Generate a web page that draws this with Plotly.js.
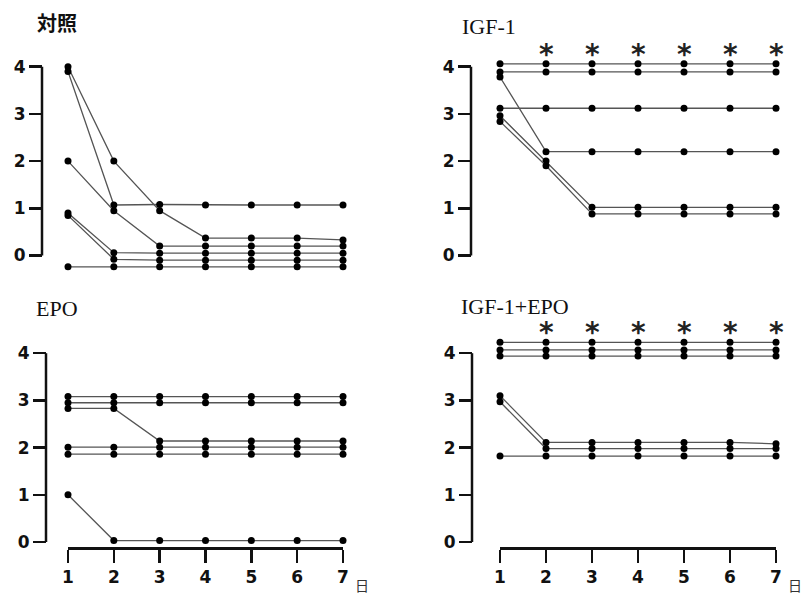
<!DOCTYPE html>
<html>
<head>
<meta charset="utf-8">
<script src="https://cdn.plot.ly/plotly-3.0.1.min.js"></script>
<style>html,body{margin:0;padding:0;background:#fff;}#chart{width:802px;height:594px;}</style>
</head>
<body>
<div id="chart"></div>
<script>
// ---- data ----
const days = [1, 2, 3, 4, 5, 6, 7];
const dayTickLabels = ['1', '2', '3', '4', '5', '6', '7'];
const yTicks = [0, 1, 2, 3, 4];
const yTickLabels = ['0', '1', '2', '3', '4'];
const panelTitles = ['対照', 'IGF-1', 'EPO', 'IGF-1+EPO'];
const dayUnit = '日';
const sigDays = [2, 3, 4, 5, 6, 7];
const sigMark = '*';

const controlSeries = [
  [4.00, 2.00, 0.95, 0.37, 0.37, 0.37, 0.33],
  [3.90, 1.07, 1.08, 1.07, 1.07, 1.07, 1.07],
  [2.00, 0.95, 0.20, 0.20, 0.20, 0.20, 0.20],
  [0.90, 0.06, 0.05, 0.05, 0.05, 0.05, 0.05],
  [0.85, -0.08, -0.10, -0.10, -0.10, -0.10, -0.10],
  [-0.24, -0.24, -0.24, -0.24, -0.24, -0.24, -0.24]
];
const igfSeries = [
  [4.06, 4.06, 4.06, 4.06, 4.06, 4.06, 4.06],
  [3.89, 3.89, 3.89, 3.89, 3.89, 3.89, 3.89],
  [3.78, 2.20, 2.20, 2.20, 2.20, 2.20, 2.20],
  [3.12, 3.12, 3.12, 3.12, 3.12, 3.12, 3.12],
  [2.96, 2.00, 1.02, 1.02, 1.02, 1.02, 1.02],
  [2.84, 1.90, 0.88, 0.88, 0.88, 0.88, 0.88]
];
const epoSeries = [
  [3.08, 3.08, 3.08, 3.08, 3.08, 3.08, 3.08],
  [2.95, 2.95, 2.95, 2.95, 2.95, 2.95, 2.95],
  [2.83, 2.83, 2.14, 2.14, 2.14, 2.14, 2.14],
  [2.01, 2.01, 2.01, 2.01, 2.01, 2.01, 2.01],
  [1.86, 1.86, 1.86, 1.86, 1.86, 1.86, 1.86],
  [1.00, 0.03, 0.03, 0.03, 0.03, 0.03, 0.03]
];
const igfEpoSeries = [
  [4.23, 4.23, 4.23, 4.23, 4.23, 4.23, 4.23],
  [4.07, 4.07, 4.07, 4.07, 4.07, 4.07, 4.07],
  [3.94, 3.94, 3.94, 3.94, 3.94, 3.94, 3.94],
  [3.10, 2.11, 2.11, 2.11, 2.11, 2.11, 2.08],
  [2.97, 1.98, 1.98, 1.98, 1.98, 1.98, 1.98],
  [1.82, 1.82, 1.82, 1.82, 1.82, 1.82, 1.82]
];

// ---- layout helpers ----
const W = 802, H = 594;
const panels = [
  {series: controlSeries, xdom: [68, 343], yrange: [-0.3, 4.3], zero: 255.5, axisX: 42, bottom: false, sigPix: null},
  {series: igfSeries,     xdom: [500, 776], yrange: [-0.3, 4.3], zero: 255.5, axisX: 471, bottom: false, sigPix: 54},
  {series: epoSeries,     xdom: [68, 343], yrange: [-0.106, 4.3], zero: 542, axisX: 46, bottom: true, sigPix: null},
  {series: igfEpoSeries,  xdom: [500, 776], yrange: [-0.106, 4.3], zero: 542, axisX: 472, bottom: true, sigPix: 332.5}
];
const S = 47.2; // px per unit
const tickFont = {family: 'DejaVu Sans', size: 17, color: '#111', weight: 'bold'};

const traces = [];
const layout = {
  width: W, height: H,
  margin: {l: 0, r: 0, t: 0, b: 0},
  paper_bgcolor: '#fff', plot_bgcolor: 'rgba(0,0,0,0)',
  showlegend: false,
  shapes: [],
  annotations: []
};

panels.forEach((p, i) => {
  const k = i === 0 ? '' : String(i + 1);
  const xa = 'x' + k, ya = 'y' + k;
  p.series.forEach(s => {
    traces.push({
      x: days, y: s, xaxis: xa, yaxis: ya,
      type: 'scatter', mode: 'lines+markers',
      line: {color: '#555', width: 1.3},
      marker: {color: '#000', size: 7},
      cliponaxis: false, hoverinfo: 'skip'
    });
  });
  const botPix = p.zero - p.yrange[0] * S;
  const topPix = p.zero - p.yrange[1] * S;
  layout['yaxis' + k] = {
    domain: [1 - botPix / H, 1 - topPix / H],
    range: p.yrange,
    anchor: 'free', position: p.axisX / W,
    showline: false, showgrid: false, zeroline: false,
    ticks: 'outside', ticklen: 13, tickwidth: 2.5, tickcolor: '#111',
    tickvals: yTicks, ticktext: yTickLabels,
    tickfont: tickFont
  };
  layout['xaxis' + k] = {
    domain: [p.xdom[0] / W, p.xdom[1] / W],
    range: [1, 7],
    anchor: ya,
    visible: p.bottom,
    showline: p.bottom, linewidth: 2.5, linecolor: '#111',
    showgrid: false, zeroline: false,
    ticks: 'outside', ticklen: 13, tickwidth: 2.5, tickcolor: '#111',
    tickvals: days, ticktext: dayTickLabels,
    tickfont: tickFont
  };
  // y axis spine from 0 to 4
  layout.shapes.push({
    type: 'line', xref: 'paper', yref: ya,
    x0: p.axisX / W, x1: p.axisX / W, y0: yTicks[0], y1: yTicks[yTicks.length - 1],
    line: {color: '#111', width: 2.5}
  });
  if (p.sigPix !== null) {
    sigDays.forEach(d => {
      layout.annotations.push({
        text: sigMark, xref: xa, yref: 'paper', x: d, y: 1 - p.sigPix / H,
        showarrow: false, xanchor: 'center', yanchor: 'middle',
        font: {family: 'DejaVu Sans', size: 28, color: '#222', weight: 'bold'}
      });
    });
  }
  if (p.bottom) {
    layout.annotations.push({
      text: dayUnit, xref: 'paper', yref: 'paper',
      x: (p.xdom[1] + 19) / W, y: 1 - 585 / H,
      showarrow: false, xanchor: 'center', yanchor: 'middle',
      font: {family: 'Noto Sans CJK JP', size: 14, color: '#333'}
    });
  }
});

// panel titles
const titlePos = [[35, 23], [460, 26], [34, 308], [459, 306]];
const titleFonts = [
  {family: 'Noto Sans CJK JP', size: 20, color: '#111', weight: 'bold'},
  {family: 'Liberation Serif', size: 22, color: '#111'},
  {family: 'Liberation Serif', size: 22, color: '#111'},
  {family: 'Liberation Serif', size: 22, color: '#111'}
];
panelTitles.forEach((t, i) => {
  layout.annotations.push({
    text: t, xref: 'paper', yref: 'paper',
    x: titlePos[i][0] / W, y: 1 - titlePos[i][1] / H,
    showarrow: false, xanchor: 'left', yanchor: 'middle',
    font: titleFonts[i]
  });
});

Plotly.newPlot('chart', traces, layout, {staticPlot: true});
</script>
</body>
</html>
